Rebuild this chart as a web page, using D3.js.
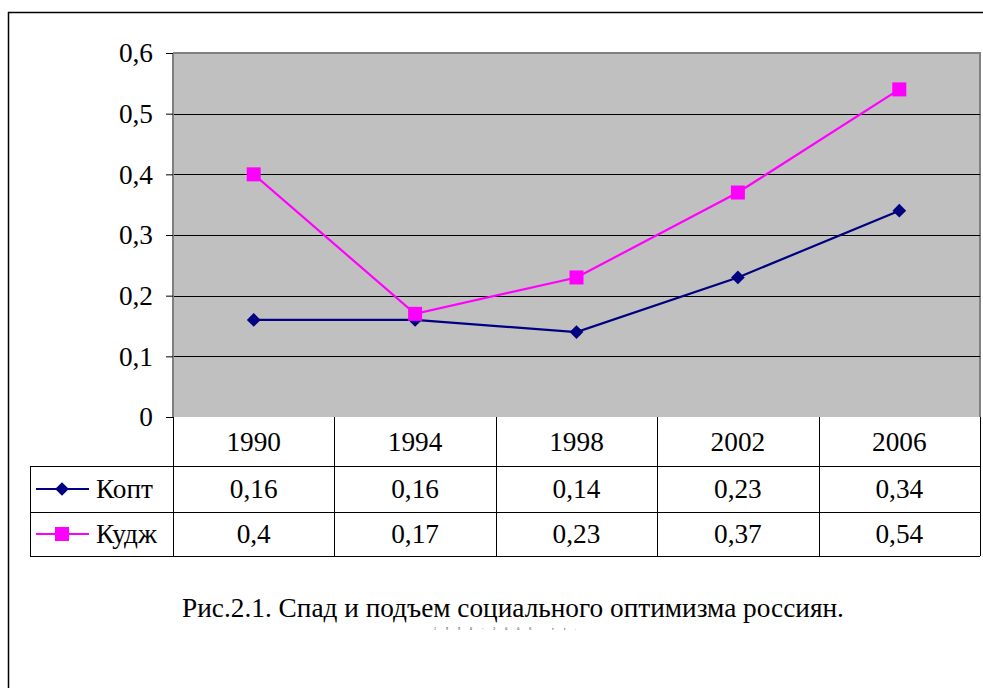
<!DOCTYPE html>
<html>
<head>
<meta charset="utf-8">
<script src="https://cdn.jsdelivr.net/npm/d3@7"></script>
<style>
body{margin:0;background:#fff;}
text{font-family:"Liberation Serif","Times New Roman",serif;fill:#000;}
</style>
</head>
<body>
<svg width="983" height="688"></svg>
<script>
const years=["1990","1994","1998","2002","2006"];
const kopt=[0.16,0.16,0.14,0.23,0.34];
const kudzh=[0.4,0.17,0.23,0.37,0.54];
const yTicks=[0,0.1,0.2,0.3,0.4,0.5,0.6];
const seriesNames=["Копт","Кудж"];
const caption="Рис.2.1. Спад и подъем социального оптимизма россиян.";

const svg=d3.select("svg");
const pLeft=173, pRight=980, pTop=53, pBottom=417;
const rowH=[49,46,44];
const fs="27.3px";
const fmt=d=>String(d).replace(".",",");

const x=d3.scaleBand().domain(years).range([pLeft,pRight]);
const y=d3.scaleLinear().domain([0,0.6]).range([pBottom,pTop]);

// outer frame
svg.append("line").attr("x1",8).attr("x2",983).attr("y1",12.5).attr("y2",12.5).attr("stroke","#000").attr("stroke-width",1.5);
svg.append("line").attr("x1",8.5).attr("x2",8.5).attr("y1",12).attr("y2",688).attr("stroke","#000").attr("stroke-width",1.5);

// plot area
svg.append("rect").attr("x",pLeft).attr("y",pTop).attr("width",pRight-pLeft).attr("height",pBottom-pTop).attr("fill","#c0c0c0");
svg.append("path").attr("d",`M${pLeft},${pTop}H${pRight}V${pBottom}`).attr("fill","none").attr("stroke","#808080").attr("stroke-width",2);
svg.append("g").selectAll("line").data(yTicks.slice(1,-1)).enter().append("line")
  .attr("x1",pLeft).attr("x2",pRight).attr("y1",d=>Math.round(y(d))+0.5).attr("y2",d=>Math.round(y(d))+0.5)
  .attr("stroke","#000");

const yAxis=svg.append("g").attr("transform",`translate(${pLeft},0)`)
  .call(d3.axisLeft(y).tickValues(yTicks).tickFormat(fmt).tickSize(7).tickPadding(13));
yAxis.select(".domain").attr("stroke","#808080").attr("stroke-width",2).attr("d",`M0,${pTop}V${pBottom}`);
yAxis.selectAll(".tick line").attr("stroke","#000");
yAxis.selectAll("text").style("font-size",fs).style("font-family","Liberation Serif");

// lines
const line=d3.line().x((d,i)=>x(years[i])+x.bandwidth()/2).y(d=>y(d));
const colors=["#000080","#ff00ff"];
const diamond=d3.symbol().type(d3.symbolDiamond2).size(120);
[kopt,kudzh].forEach((s,k)=>{
  svg.append("path").datum(s).attr("d",line).attr("fill","none").attr("stroke",colors[k]).attr("stroke-width",2.2);
});
svg.append("g").selectAll("path").data(kopt).enter().append("path")
  .attr("d",diamond)
  .attr("transform",(d,i)=>`translate(${x(years[i])+x.bandwidth()/2},${y(d)})`)
  .attr("fill","#000080");
svg.append("g").selectAll("rect").data(kudzh).enter().append("rect")
  .attr("x",(d,i)=>x(years[i])+x.bandwidth()/2-7).attr("y",d=>y(d)-7)
  .attr("width",14).attr("height",14).attr("fill","#ff00ff");

// data table
const r0=pBottom, r1=r0+rowH[0], r2=r1+rowH[1], r3=r2+rowH[2];
const tg=svg.append("g").attr("stroke","#000").attr("stroke-width",1);
[r1,r2,r3].forEach(v=>tg.append("line").attr("x1",30).attr("x2",pRight).attr("y1",v+0.5).attr("y2",v+0.5));
tg.append("line").attr("x1",30.5).attr("x2",30.5).attr("y1",r1).attr("y2",r3);
years.forEach(yr=>tg.append("line").attr("x1",Math.round(x(yr))+0.5).attr("x2",Math.round(x(yr))+0.5).attr("y1",r0).attr("y2",r3));
tg.append("line").attr("x1",pRight+0.5).attr("x2",pRight+0.5).attr("y1",r0).attr("y2",r3);

svg.append("g").selectAll("text").data(years).enter().append("text")
  .attr("x",d=>x(d)+x.bandwidth()/2).attr("y",(r0+r1)/2+9).attr("text-anchor","middle")
  .style("font-size",fs).text(d=>d);
[kopt,kudzh].forEach((s,k)=>{
  const ry=k===0?(r1+r2)/2+9:(r2+r3)/2+9;
  svg.append("g").selectAll("text").data(s).enter().append("text")
    .attr("x",(d,i)=>x(years[i])+x.bandwidth()/2).attr("y",ry).attr("text-anchor","middle")
    .style("font-size",fs).text(d=>fmt(d));
  const my=ry-9;
  svg.append("line").attr("x1",36).attr("x2",89).attr("y1",my).attr("y2",my).attr("stroke",colors[k]).attr("stroke-width",2.2);
  if(k===0){
    svg.append("path").attr("d",diamond).attr("transform",`translate(62,${my})`).attr("fill","#000080");
  }else{
    svg.append("rect").attr("x",55).attr("y",my-7).attr("width",14).attr("height",14).attr("fill","#ff00ff");
  }
  svg.append("text").attr("x",96).attr("y",ry).style("font-size",fs).text(seriesNames[k]);
});

// caption
svg.append("text").attr("x",513).attr("y",617).attr("text-anchor","middle").style("font-size",fs).text(caption);
svg.append("text").attr("x",510).attr("y",630).attr("text-anchor","middle").style("font-size","4px")
  .style("letter-spacing","10px").attr("fill","#555").text("1990-2006 гг.");
</script>
</body>
</html>
